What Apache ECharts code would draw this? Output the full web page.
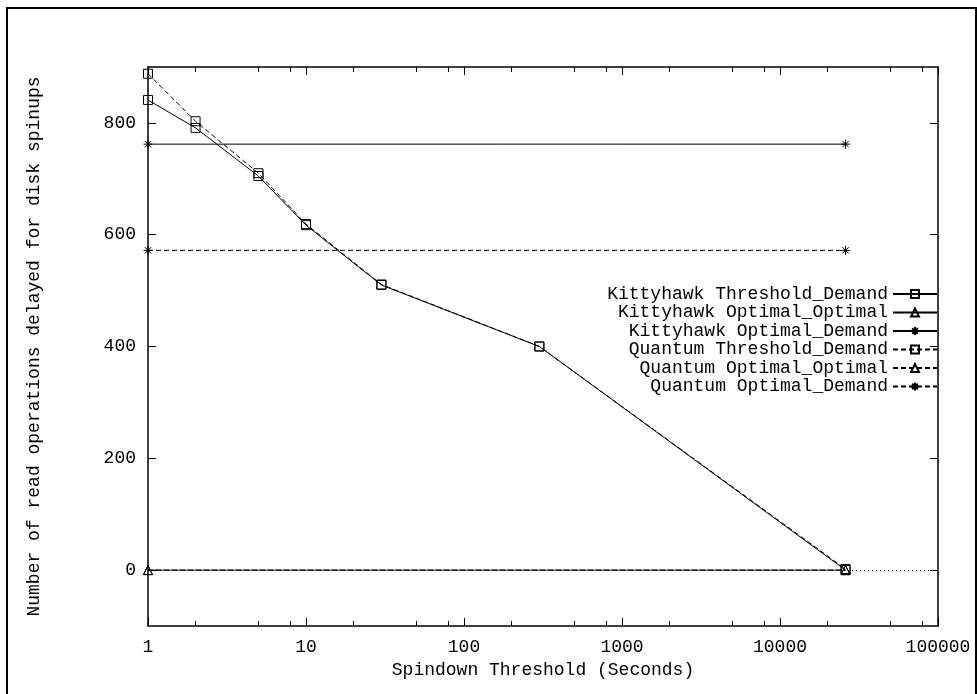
<!DOCTYPE html>
<html>
<head>
<meta charset="utf-8">
<script src="https://cdn.jsdelivr.net/npm/echarts@6/dist/echarts.min.js"></script>
<style>
  html, body { margin: 0; padding: 0; background: #fff; }
  #main { width: 977px; height: 694px; }
</style>
</head>
<body>
<div id="main"></div>
<script>
// data
var thresholds = [1, 2, 5, 10, 30, 300, 26000];
var kittyThresholdDemand = [841, 791, 705, 617, 510, 400, 0];
var quantumThresholdDemand = [888, 803, 710, 619, 511, 400, 2];
var optimalEnds = [1, 26000];
var kittyOptimalOptimal = [0, 0];
var kittyOptimalDemand = [762, 762];
var quantumOptimalOptimal = [0, 0];
var quantumOptimalDemand = [572, 572];

var yTicks = [0, 200, 400, 600, 800];
var xMinor = [2, 5, 8, 20, 50, 80, 200, 500, 800, 2000, 5000, 8000, 20000, 50000, 80000];

var FONT = 'Liberation Mono';
var STAR = 'path://M5,0L5,10M0,5L10,5M1.5,1.5L8.5,8.5M8.5,1.5L1.5,8.5';

function pairs(xs, ys) {
  return xs.map(function (x, i) { return [x, ys[i]]; });
}

function mkSeries(name, xs, ys, symbol, dashed) {
  return {
    name: name,
    type: 'line',
    data: pairs(xs, ys),
    symbol: symbol,
    symbolSize: 9,
    showAllSymbol: true,
    itemStyle: { color: 'transparent', borderColor: '#000', borderWidth: 1 },
    lineStyle: { color: '#000', width: 1, type: dashed ? [5, 3] : 'solid' },
    emphasis: { disabled: true },
    z: 3
  };
}

var myChart = echarts.init(document.getElementById('main'));

var series = [
  mkSeries('Kittyhawk Threshold_Demand', thresholds, kittyThresholdDemand, 'rect', false),
  mkSeries('Kittyhawk Optimal_Optimal', optimalEnds, kittyOptimalOptimal, 'triangle', false),
  mkSeries('Kittyhawk Optimal_Demand', optimalEnds, kittyOptimalDemand, STAR, false),
  mkSeries('Quantum Threshold_Demand', thresholds, quantumThresholdDemand, 'rect', true),
  mkSeries('Quantum Optimal_Optimal', optimalEnds, quantumOptimalOptimal, 'triangle', true),
  mkSeries('Quantum Optimal_Demand', optimalEnds, quantumOptimalDemand, STAR, true)
];
// dotted zero axis
series[0].markLine = {
  silent: true,
  symbol: 'none',
  label: { show: false },
  lineStyle: { color: '#000', width: 1, type: [1, 3] },
  data: [{ yAxis: 0 }],
  z: 1
};

var lineBlack = { color: '#000', width: 1.5 };

// decade axis (data + labels)
function logAxis(pos, labels) {
  return {
    type: 'log',
    logBase: 10,
    min: 1,
    max: 100000,
    position: pos,
    axisLine: { show: true, onZero: false, lineStyle: lineBlack },
    axisTick: { show: true, inside: true, length: 8, lineStyle: { color: '#000', width: 1 } },
    axisLabel: labels ? {
      show: true, color: '#000', fontFamily: FONT, fontSize: 18, margin: 12,
      formatter: function (v) { return String(Math.round(v)); }
    } : { show: false },
    splitLine: { show: false },
    minorTick: { show: false },
    name: labels ? 'Spindown Threshold (Seconds)' : '',
    nameLocation: 'middle',
    nameGap: 33,
    nameTextStyle: { color: '#000', fontFamily: FONT, fontSize: 18 }
  };
}

// tick-only axis for the 2,5,8 minor ticks, laid out in decades (0..5)
function minorAxis(pos) {
  return {
    type: 'value',
    min: 0,
    max: 5,
    position: pos,
    axisLine: { show: false, onZero: false },
    axisTick: {
      show: true, inside: true, length: 5, lineStyle: { color: '#000', width: 1 },
      customValues: xMinor.map(function (v) { return Math.log10(v); })
    },
    axisLabel: { show: false },
    splitLine: { show: false }
  };
}

var option = {
  animation: false,
  backgroundColor: '#fff',
  grid: { left: 148, right: 39, top: 67, bottom: 68, containLabel: false },
  legend: {
    orient: 'vertical',
    align: 'right',
    right: 34,
    top: 280,
    itemWidth: 44,
    itemHeight: 10,
    itemGap: 0.5,
    selectedMode: false,
    textStyle: { color: '#000', fontFamily: FONT, fontSize: 18, lineHeight: 18 },
    data: series.map(function (s) { return s.name; })
  },
  graphic: [{
    type: 'rect',
    shape: { x: 7, y: 8, width: 969, height: 700 },
    style: { fill: 'none', stroke: '#000', lineWidth: 2 },
    silent: true
  }],
  xAxis: [
    logAxis('bottom', true),
    minorAxis('bottom'),
    logAxis('top', false),
    minorAxis('top')
  ],
  yAxis: [
    {
      type: 'value',
      min: -100,
      max: 900,
      position: 'left',
      axisLine: { show: true, onZero: false, lineStyle: lineBlack },
      axisTick: { show: true, inside: true, length: 8, lineStyle: { color: '#000' }, customValues: yTicks },
      axisLabel: { color: '#000', fontFamily: FONT, fontSize: 18, margin: 12, customValues: yTicks },
      splitLine: { show: false },
      name: 'Number of read operations delayed for disk spinups',
      nameLocation: 'middle',
      nameGap: 105,
      nameTextStyle: { color: '#000', fontFamily: FONT, fontSize: 18 }
    },
    {
      type: 'value',
      min: -100,
      max: 900,
      position: 'right',
      axisLine: { show: true, onZero: false, lineStyle: lineBlack },
      axisTick: { show: true, inside: true, length: 8, lineStyle: { color: '#000' }, customValues: yTicks },
      axisLabel: { show: false },
      splitLine: { show: false }
    }
  ],
  series: series
};
myChart.setOption(option);
</script>
</body>
</html>
